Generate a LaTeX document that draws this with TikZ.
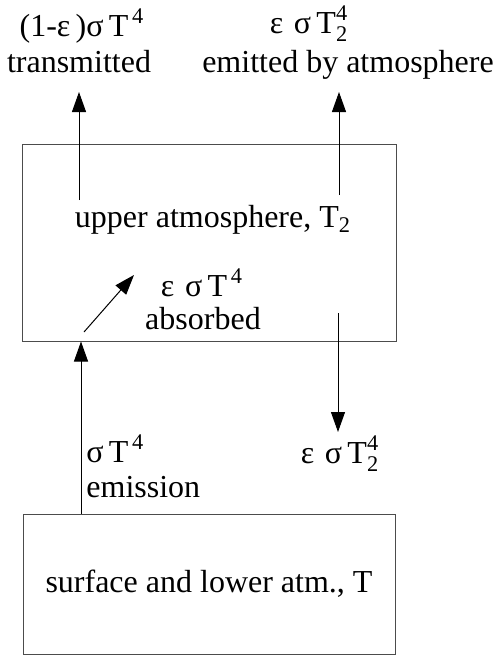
\documentclass[tikz,border=0pt]{standalone}
\usepackage{amsmath}
\usepackage{fontspec}
\setmainfont{Liberation Serif}
\usetikzlibrary{arrows.meta,positioning}

\newcommand{\Tfour}{$\mathrm{T}^{\,\text{4}}$}
\newcommand{\Ttwofour}{$\mathrm{T}_{\text{2}}^{\text{4}}$}

\begin{document}
\begin{tikzpicture}[x=0.5pt, y=-0.5pt,
      box/.style={draw=black!70, line width=0.5pt, inner sep=0pt},
      lbl/.style={inner sep=0pt, anchor=base, font=\fontsize{16}{19}\selectfont},
      flow/.style={draw, line width=0.5pt, -{Triangle[length=10pt, width=7pt]}}
    ]
    \useasboundingbox (0,0) rectangle (496,655);
    % the two layers
    \node[box, minimum width=187pt, minimum height=98.5pt] (up) at (209,242.5) {};
    \node[box, minimum width=186pt, minimum height=70pt, lbl, anchor=center] (low) at (209,584) {surface and lower atm., T};
    \node[lbl] (upname) at (213,227) {upper atmosphere, T\textsubscript{2}};
    % labels
    \node[lbl] (trsig) at (82,36) {(1-ε\,)σ\,\Tfour};
    \node[lbl] (trans) at (79,72) {transmitted};
    \node[lbl] (emsig) at (309,33) {ε\,\,σ\,\Ttwofour};
    \node[lbl] (emit) at (348,72) {emitted by atmosphere};
    \node[lbl] (absig) at (202,296) {ε\,\,σ\,\Tfour};
    \node[lbl] (absorb) at (203,329) {absorbed};
    \node[lbl] (dnsig) at (340,463) {ε\,\,σ\,\Ttwofour};
    \node[lbl, anchor=base west] (srcsig) at (86,462) {σ\,\Tfour};
    \node[lbl, anchor=base west] (srcname) at (86,497) {emission};
    % flows
    \coordinate (trfoot) at (79,200);   \coordinate (trtip) at (79,92);
    \coordinate (emfoot) at (339,195);  \coordinate (emtip) at (339,92);
    \coordinate (abfoot) at (84,332);   \coordinate (abtip) at (134,275);
    \coordinate (dnfoot) at (338,313);  \coordinate (dntip) at (338,432);
    \coordinate (srcx) at (81,0);
    \draw[flow] (trfoot) -- (trtip);
    \draw[flow] (emfoot) -- (emtip);
    \draw[flow] (abfoot) -- (abtip);
    \draw[flow] (dnfoot) -- (dntip);
    \draw[flow] (low.north -| srcx) -- (up.south -| srcx);
  \end{tikzpicture}
\end{document}
